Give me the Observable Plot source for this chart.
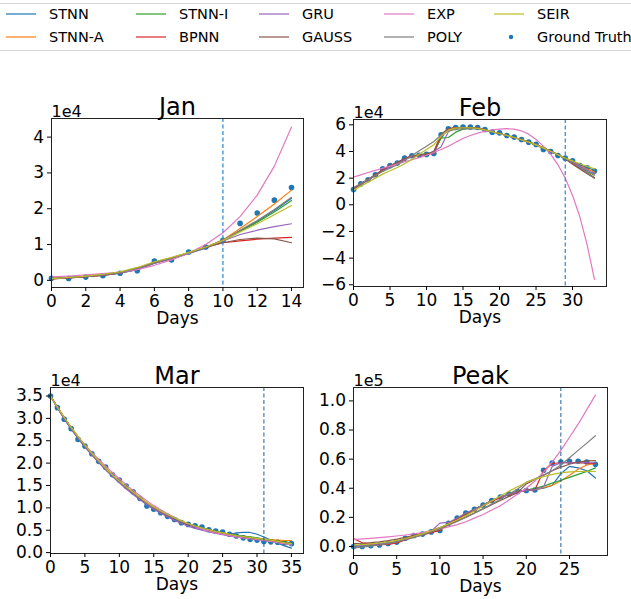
<!DOCTYPE html>
<html><head><meta charset="utf-8">
<script src="https://cdn.jsdelivr.net/npm/d3@7"></script>
<script src="https://cdn.jsdelivr.net/npm/@observablehq/plot@0.6"></script>
<style>
body{margin:0;background:#fff;}
#root{position:relative;width:631px;height:599px;font-family:"DejaVu Sans",sans-serif;overflow:hidden;}
.panel{position:absolute;}
.panel svg{overflow:visible;}
</style></head><body><div id="root"></div>
<script>
const models = ["STNN","STNN-A","STNN-I","BPNN","GRU","GAUSS","EXP","POLY","SEIR"];
const modelColors = ["#1f77b4","#ff7f0e","#2ca02c","#d62728","#9467bd","#8c564b","#e377c2","#7f7f7f","#bcbd22"];
const gtLabel = "Ground Truth";
const gtColor = "#1f77b4";
const xLabel = "Days";
const titles = ["Jan","Feb","Mar","Peak"];
const offsets = ["1e4","1e4","1e4","1e5"];

// ---- Jan (x1e4), days 0..14
const janGT = [0.06,0.05,0.09,0.13,0.2,0.27,0.54,0.57,0.79,0.93,1.12,1.59,1.88,2.24,2.59];
const janSTNN  = [0.05,0.07,0.1,0.14,0.2,0.3,0.48,0.6,0.75,0.9,1.1,1.38,1.65,1.95,2.29];
const janSTNNA = [0.06,0.08,0.11,0.15,0.21,0.31,0.5,0.61,0.76,0.92,1.13,1.45,1.78,2.13,2.52];
const janSTNNI = [0.05,0.08,0.11,0.15,0.2,0.32,0.5,0.62,0.77,0.92,1.12,1.37,1.62,1.91,2.23];
const janBPNN  = [0.04,0.07,0.1,0.14,0.21,0.33,0.49,0.62,0.77,0.93,1.05,1.1,1.15,1.18,1.2];
const janGRU   = [0.05,0.08,0.11,0.15,0.21,0.3,0.48,0.6,0.75,0.91,1.1,1.28,1.4,1.5,1.58];
const janGAUSS = [0.04,0.07,0.1,0.15,0.22,0.34,0.48,0.62,0.77,0.92,1.05,1.14,1.18,1.16,1.05];
const janEXP   = [0.1,0.12,0.15,0.19,0.23,0.3,0.42,0.57,0.76,1.0,1.33,1.78,2.38,3.19,4.28];
const janPOLY  = [0.05,0.08,0.11,0.15,0.22,0.33,0.48,0.62,0.77,0.93,1.12,1.4,1.67,1.98,2.32];
const janSEIR  = [0.05,0.08,0.12,0.17,0.24,0.36,0.52,0.64,0.78,0.93,1.11,1.35,1.58,1.83,2.09];

// ---- Feb (x1e4), days 0..33
const febGT = [1.15,1.58,1.88,2.25,2.7,2.95,3.13,3.5,3.68,3.72,3.78,3.85,5.25,5.7,5.8,5.83,5.83,5.8,5.65,5.45,5.4,5.2,5.08,4.9,4.7,4.53,4.15,4.0,3.7,3.5,3.3,2.95,2.78,2.53];
const febSTNN  = [1.2,1.55,1.9,2.22,2.6,2.9,3.15,3.45,3.65,3.75,3.8,3.9,5.1,5.65,5.78,5.8,5.8,5.75,5.62,5.48,5.35,5.2,5.05,4.88,4.7,4.5,4.27,4.02,3.76,3.5,3.25,3.0,2.78,2.6];
const febSTNNA = [1.18,1.57,1.88,2.24,2.62,2.92,3.15,3.47,3.66,3.74,3.8,3.88,5.15,5.68,5.78,5.8,5.8,5.75,5.62,5.48,5.35,5.2,5.05,4.88,4.7,4.5,4.27,4.02,3.76,3.48,3.2,2.92,2.68,2.45];
const febSTNNI = [1.2,1.55,1.88,2.2,2.6,2.9,3.15,3.45,3.65,3.75,3.82,3.95,5.0,5.05,5.45,5.68,5.75,5.74,5.62,5.48,5.35,5.2,5.05,4.88,4.7,4.5,4.27,4.02,3.76,3.47,3.12,2.8,2.5,2.22];
const febBPNN  = [1.15,1.6,1.9,2.25,2.65,2.95,3.15,3.48,3.66,3.72,3.78,3.9,5.2,5.72,5.8,5.8,5.8,5.75,5.62,5.48,5.35,5.2,5.05,4.88,4.7,4.5,4.27,4.02,3.76,3.45,3.1,2.75,2.4,2.05];
const febGRU   = [1.25,1.5,1.85,2.2,2.55,2.85,3.1,3.4,3.6,3.7,3.78,4.0,4.35,5.5,5.75,5.8,5.8,5.75,5.62,5.48,5.35,5.2,5.05,4.88,4.7,4.5,4.27,4.02,3.76,3.48,3.2,2.9,2.6,2.3];
const febGAUSS = [1.2,1.58,1.9,2.23,2.63,2.93,3.17,3.45,3.65,3.73,3.8,4.0,5.3,5.7,5.78,5.8,5.8,5.75,5.62,5.48,5.35,5.2,5.05,4.88,4.7,4.5,4.27,4.02,3.76,3.45,3.05,2.68,2.33,2.0];
const febEXP   = [2.08,2.25,2.42,2.58,2.74,2.9,3.06,3.22,3.38,3.54,3.72,3.92,4.15,4.4,4.7,4.97,5.2,5.38,5.52,5.62,5.68,5.71,5.68,5.55,5.3,4.9,4.4,3.8,3.0,2.0,0.7,-0.9,-3.0,-5.6];
const febPOLY  = [1.3,1.6,1.9,2.2,2.5,2.75,3.0,3.35,3.7,4.05,4.4,4.75,5.25,5.55,5.65,5.7,5.72,5.7,5.6,5.47,5.35,5.2,5.05,4.88,4.7,4.5,4.27,4.02,3.76,3.5,3.15,2.8,2.4,2.0];
const febSEIR  = [1.1,1.4,1.7,2.0,2.3,2.55,2.8,3.08,3.4,3.8,4.15,4.5,5.15,5.6,5.75,5.78,5.78,5.74,5.62,5.48,5.35,5.2,5.05,4.88,4.7,4.5,4.27,4.02,3.76,3.5,3.3,3.08,2.88,2.7];

// ---- Mar (x1e4), days 0..35
const marGT = [3.5,3.24,2.98,2.77,2.53,2.38,2.21,2.04,1.91,1.74,1.62,1.49,1.36,1.21,1.04,0.97,0.89,0.81,0.74,0.67,0.63,0.6,0.57,0.51,0.48,0.46,0.41,0.37,0.33,0.3,0.28,0.25,0.24,0.23,0.22,0.2];
const marSTNN  = [3.5,3.24,2.99,2.76,2.55,2.37,2.2,2.03,1.88,1.73,1.6,1.46,1.33,1.2,1.06,0.98,0.9,0.82,0.75,0.68,0.62,0.57,0.53,0.49,0.45,0.42,0.41,0.44,0.45,0.45,0.41,0.35,0.28,0.21,0.15,0.1];
const marSTNNA = [3.5,3.25,3.01,2.79,2.58,2.39,2.21,2.04,1.88,1.73,1.59,1.46,1.34,1.22,1.11,1.01,0.92,0.84,0.77,0.7,0.64,0.59,0.55,0.51,0.47,0.44,0.41,0.38,0.36,0.34,0.32,0.3,0.29,0.28,0.27,0.27];
const marSTNNI = [3.5,3.25,3.01,2.79,2.58,2.39,2.21,2.04,1.88,1.73,1.59,1.46,1.34,1.22,1.11,1.01,0.92,0.84,0.77,0.7,0.64,0.59,0.55,0.51,0.47,0.44,0.41,0.39,0.37,0.35,0.33,0.3,0.28,0.26,0.24,0.22];
const marBPNN  = [3.5,3.25,3.0,2.78,2.57,2.38,2.2,2.03,1.87,1.72,1.58,1.45,1.33,1.21,1.1,1.0,0.91,0.83,0.76,0.69,0.63,0.58,0.54,0.5,0.46,0.43,0.4,0.37,0.35,0.33,0.31,0.29,0.27,0.25,0.22,0.2];
const marGRU   = [3.5,3.24,2.99,2.77,2.56,2.36,2.18,2.01,1.85,1.7,1.56,1.42,1.3,1.18,1.07,0.97,0.88,0.8,0.72,0.65,0.59,0.54,0.5,0.46,0.43,0.4,0.37,0.35,0.33,0.31,0.29,0.27,0.25,0.23,0.2,0.18];
const marGAUSS = [3.5,3.25,3.01,2.79,2.58,2.39,2.21,2.04,1.88,1.73,1.59,1.46,1.34,1.22,1.11,1.01,0.92,0.84,0.77,0.7,0.64,0.59,0.55,0.5,0.46,0.43,0.4,0.37,0.34,0.32,0.3,0.28,0.26,0.24,0.21,0.19];
const marEXP   = [3.48,3.24,3.01,2.8,2.6,2.41,2.24,2.08,1.93,1.79,1.65,1.52,1.39,1.27,1.16,1.05,0.96,0.87,0.79,0.71,0.64,0.58,0.53,0.48,0.44,0.41,0.38,0.35,0.33,0.31,0.29,0.27,0.25,0.22,0.2,0.17];
const marPOLY  = [3.5,3.25,3.01,2.79,2.58,2.39,2.21,2.04,1.88,1.73,1.59,1.46,1.34,1.22,1.11,1.01,0.92,0.84,0.77,0.7,0.64,0.59,0.55,0.51,0.47,0.44,0.41,0.38,0.35,0.33,0.31,0.29,0.27,0.25,0.22,0.2];
const marSEIR  = [3.5,3.26,3.02,2.8,2.59,2.4,2.22,2.05,1.89,1.74,1.6,1.47,1.35,1.23,1.12,1.02,0.93,0.85,0.78,0.71,0.65,0.6,0.55,0.51,0.47,0.44,0.41,0.38,0.36,0.34,0.32,0.3,0.28,0.25,0.22,0.2];

// ---- Peak (x1e5), days 0..28
const peakGT = [0.0,0.0,0.005,0.01,0.02,0.03,0.057,0.075,0.085,0.1,0.11,0.16,0.195,0.23,0.255,0.285,0.316,0.34,0.36,0.378,0.385,0.388,0.523,0.573,0.58,0.585,0.585,0.58,0.564];
const peakSTNN  = [0.0,0.005,0.008,0.012,0.02,0.03,0.05,0.07,0.085,0.1,0.115,0.155,0.19,0.225,0.255,0.285,0.315,0.34,0.36,0.378,0.385,0.39,0.4,0.42,0.5,0.55,0.54,0.52,0.47];
const peakSTNNA = [0.005,0.008,0.01,0.014,0.022,0.032,0.05,0.07,0.085,0.1,0.115,0.155,0.19,0.225,0.255,0.285,0.315,0.34,0.36,0.378,0.385,0.39,0.405,0.42,0.45,0.49,0.53,0.56,0.57];
const peakSTNNI = [0.005,0.008,0.011,0.015,0.022,0.032,0.05,0.068,0.084,0.1,0.115,0.155,0.19,0.225,0.255,0.285,0.315,0.34,0.36,0.378,0.388,0.4,0.415,0.435,0.455,0.475,0.495,0.515,0.54];
const peakBPNN  = [0.055,0.025,0.015,0.012,0.015,0.025,0.045,0.065,0.08,0.095,0.11,0.16,0.19,0.22,0.25,0.28,0.31,0.335,0.355,0.375,0.385,0.39,0.52,0.57,0.575,0.575,0.575,0.572,0.57];
const peakGRU   = [0.005,0.008,0.012,0.018,0.025,0.035,0.05,0.07,0.085,0.105,0.16,0.165,0.195,0.23,0.255,0.285,0.315,0.34,0.36,0.375,0.385,0.39,0.41,0.55,0.575,0.575,0.575,0.575,0.575];
const peakGAUSS = [0.02,0.022,0.026,0.032,0.04,0.05,0.062,0.076,0.092,0.11,0.13,0.152,0.176,0.202,0.23,0.258,0.287,0.316,0.344,0.37,0.43,0.46,0.49,0.52,0.545,0.565,0.58,0.588,0.59];
const peakEXP   = [0.048,0.052,0.056,0.061,0.066,0.072,0.079,0.087,0.096,0.107,0.12,0.135,0.15,0.17,0.195,0.22,0.25,0.28,0.32,0.36,0.4,0.45,0.51,0.58,0.66,0.75,0.84,0.94,1.04];
const peakPOLY  = [-0.01,-0.005,0.002,0.01,0.02,0.032,0.046,0.062,0.08,0.1,0.122,0.146,0.172,0.2,0.229,0.26,0.292,0.325,0.36,0.395,0.44,0.465,0.49,0.52,0.56,0.61,0.66,0.71,0.76];
const peakSEIR  = [0.01,0.013,0.018,0.024,0.032,0.042,0.055,0.07,0.088,0.108,0.13,0.155,0.182,0.212,0.244,0.278,0.312,0.347,0.38,0.41,0.44,0.463,0.48,0.495,0.505,0.512,0.515,0.516,0.515];

// ---- axis ticks
const janXTicks = [0,2,4,6,8,10,12,14], janYTicks = [0,1,2,3,4];
const febXTicks = [0,5,10,15,20,25,30], febYTicks = [-6,-4,-2,0,2,4,6];
const marXTicks = [0,5,10,15,20,25,30,35], marYTicks = [0,0.5,1,1.5,2,2.5,3,3.5];
const peakXTicks = [0,5,10,15,20,25], peakYTicks = [0,0.2,0.4,0.6,0.8,1.0];
const splitDays = [10, 29, 31, 24];

function panel(cfg) {
  const rows = [];
  cfg.series.forEach((arr, i) => arr.forEach((v, d) => rows.push({day: d, value: v, model: models[i]})));
  const pts = cfg.gt.map((v, d) => ({day: d, value: v}));
  return Plot.plot({
    width: cfg.width, height: cfg.height,
    marginLeft: cfg.ml, marginRight: cfg.mr, marginTop: cfg.mt, marginBottom: cfg.mb,
    style: {fontFamily: "'DejaVu Sans', sans-serif", fontSize: "17px", color: "#000", background: "transparent", overflow: "visible"},
    x: {domain: cfg.xDomain},
    y: {domain: cfg.yDomain},
    color: {domain: models, range: modelColors},
    marks: [
      Plot.dot(pts, {x: "day", y: "value", r: 2.8, fill: gtColor, stroke: "none"}),
      Plot.line(rows, {x: "day", y: "value", z: "model", stroke: "model", strokeWidth: 1.2}),
      Plot.ruleX([cfg.split], {stroke: cfg.splitColor, strokeWidth: cfg.splitWidth, strokeDasharray: "4,2.5"}),
      Plot.frame({stroke: "#222", strokeWidth: 1}),
      Plot.axisX({ticks: cfg.xTicks, tickSize: 4, tickPadding: 3, label: null, tickFormat: d3.format("d")}),
      Plot.axisY({ticks: cfg.yTicks, tickSize: 4, tickPadding: 3.5, label: null, tickFormat: cfg.yFormat}),
      Plot.text([xLabel], {frameAnchor: "bottom", lineAnchor: "bottom", dy: 36, fontSize: 17}),
      Plot.text([cfg.title], {frameAnchor: "top", lineAnchor: "bottom", dy: -4, fontSize: 24}),
      Plot.text([cfg.offset], {frameAnchor: "top-left", textAnchor: "start", lineAnchor: "bottom", dy: -2, fontSize: 16})
    ]
  });
}

const root = document.getElementById("root");

// legend (HTML/SVG above the plots)
const leg = d3.select(root).append("svg").attr("width", 631).attr("height", 55)
  .style("position", "absolute").style("left", "0px").style("top", "0px");
leg.append("line").attr("x1", 0).attr("x2", 631).attr("y1", 3.5).attr("y2", 3.5).attr("stroke", "#d6d6d6");
leg.append("line").attr("x1", 0).attr("x2", 631).attr("y1", 50.5).attr("y2", 50.5).attr("stroke", "#d6d6d6");
const legNames = models.concat([gtLabel]);
const legColX = [6, 136, 259, 384, 494];
legNames.forEach((name, i) => {
  const col = Math.floor(i / 2), row = i % 2;
  const x0 = legColX[col], y0 = 14 + row * 23;
  if (name === gtLabel) {
    leg.append("circle").attr("cx", x0 + 17).attr("cy", y0).attr("r", 2.2).attr("fill", gtColor);
  } else {
    leg.append("line").attr("x1", x0).attr("x2", x0 + 30).attr("y1", y0).attr("y2", y0)
      .attr("stroke", modelColors[i]).attr("stroke-width", 1.2);
  }
  leg.append("text").attr("x", x0 + 43).attr("y", y0).attr("dy", "0.36em")
    .attr("font-family", "'DejaVu Sans', sans-serif").attr("font-size", 14.5).attr("fill", "#000").text(name);
});

const specs = [
  {left: 0, top: 85, width: 315, height: 255, ml: 51, mr: 12, mt: 33, mb: 53,
   gt: janGT, series: [janSTNN, janSTNNA, janSTNNI, janBPNN, janGRU, janGAUSS, janEXP, janPOLY, janSEIR],
   xDomain: [0, 14.7], yDomain: [-0.2, 4.52], xTicks: janXTicks, yTicks: janYTicks, yFormat: d3.format("d"),
   splitColor: "#2b86d0", splitWidth: 1.2},
  {left: 315, top: 85, width: 316, height: 255, ml: 38, mr: 25, mt: 34, mb: 54,
   gt: febGT, series: [febSTNN, febSTNNA, febSTNNI, febBPNN, febGRU, febGAUSS, febEXP, febPOLY, febSEIR],
   xDomain: [0, 34.65], yDomain: [-6.13, 6.4], xTicks: febXTicks, yTicks: febYTicks, yFormat: d3.format("d"),
   splitColor: "#2b86d0", splitWidth: 1.2},
  {left: 0, top: 350, width: 315, height: 249, ml: 50, mr: 12, mt: 37, mb: 46,
   gt: marGT, series: [marSTNN, marSTNNA, marSTNNI, marBPNN, marGRU, marGAUSS, marEXP, marPOLY, marSEIR],
   xDomain: [0, 36.75], yDomain: [-0.02, 3.69], xTicks: marXTicks, yTicks: marYTicks, yFormat: d3.format(".1f"),
   splitColor: "#1f5f9f", splitWidth: 1},
  {left: 315, top: 350, width: 316, height: 249, ml: 38, mr: 24, mt: 37, mb: 44,
   gt: peakGT, series: [peakSTNN, peakSTNNA, peakSTNNI, peakBPNN, peakGRU, peakGAUSS, peakEXP, peakPOLY, peakSEIR],
   xDomain: [0, 29.4], yDomain: [-0.062, 1.092], xTicks: peakXTicks, yTicks: peakYTicks, yFormat: d3.format(".1f"),
   splitColor: "#1f5f9f", splitWidth: 1}
];
specs.forEach((s, i) => {
  const div = document.createElement("div");
  div.className = "panel";
  div.style.left = s.left + "px";
  div.style.top = s.top + "px";
  div.appendChild(panel({...s, title: titles[i], offset: offsets[i], split: splitDays[i]}));
  root.appendChild(div);
});
</script>
</body></html>
